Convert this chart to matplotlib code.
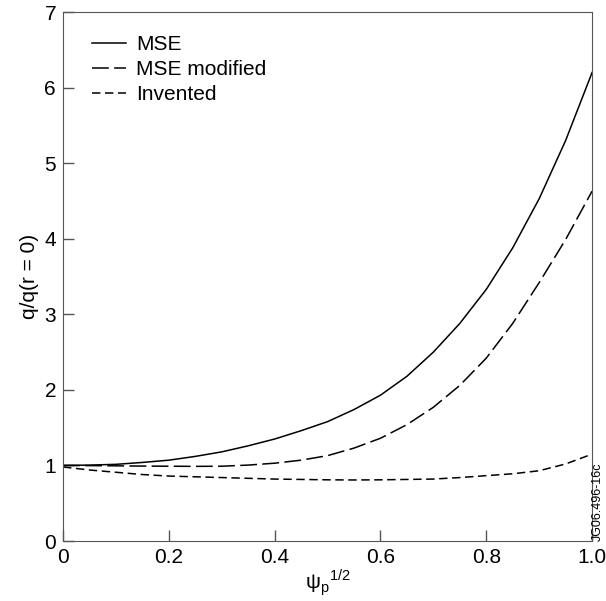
import numpy as np
import matplotlib.pyplot as plt

plt.rcParams['font.family'] = ['Liberation Sans', 'DejaVu Sans']
plt.rcParams['mathtext.fontset'] = 'custom'
plt.rcParams['mathtext.rm'] = 'Liberation Sans'

# values
x = [0.0, 0.05, 0.1, 0.15, 0.2, 0.25, 0.3, 0.35, 0.4, 0.45, 0.5, 0.55, 0.6,
     0.65, 0.7, 0.75, 0.8, 0.85, 0.9, 0.95, 1.0]
mse = [1.0, 1.005, 1.015, 1.04, 1.07, 1.12, 1.18, 1.26, 1.35, 1.46, 1.58,
       1.74, 1.93, 2.18, 2.5, 2.88, 3.33, 3.88, 4.53, 5.3, 6.2]
mse_mod = [1.0, 0.998, 0.995, 0.992, 0.99, 0.988, 0.99, 1.005, 1.03, 1.07,
           1.13, 1.23, 1.36, 1.54, 1.77, 2.06, 2.42, 2.88, 3.42, 3.99, 4.63]
invented = [0.98, 0.94, 0.91, 0.88, 0.86, 0.85, 0.84, 0.83, 0.82, 0.815,
            0.81, 0.808, 0.81, 0.815, 0.82, 0.84, 0.865, 0.89, 0.93, 1.02, 1.15]

fig = plt.figure(figsize=(6.06, 6.01), dpi=100)
ax = fig.add_axes([0.104, 0.0998, 0.873, 0.88])

ax.plot(x, mse, color='black', lw=1.1, label='MSE')
ax.plot(x, mse_mod, color='black', lw=1.1, dashes=(11, 3.5), label='MSE modified')
ax.plot(x, invented, color='black', lw=1.1, dashes=(5.5, 3), label='Invented')

ax.set_xlim(0, 1.0)
ax.set_ylim(0, 7)
ax.set_xticks([0, 0.2, 0.4, 0.6, 0.8, 1.0])
ax.set_xticklabels(['0', '0.2', '0.4', '0.6', '0.8', '1.0'])
ax.set_yticks(range(8))
ax.tick_params(direction='in', labelsize=15, length=8, color='#555555',
               width=1, pad=5)
for s in ax.spines.values():
    s.set_color('#555555')

ax.set_xlabel(r'ψ$_{\mathrm{p}}$$^{\mathrm{1/2}}$', fontsize=15, labelpad=0)
ax.set_ylabel('q/q(r = 0)', fontsize=15)

ax.legend(loc='upper left', bbox_to_anchor=(0.0, 1.012), frameon=False,
          fontsize=15, handlelength=1.6, handletextpad=0.5,
          labelspacing=0.3, borderaxespad=1.0)

fig.text(0.986, 0.1, 'JG06.496-16c', rotation=90, fontsize=9,
         ha='center', va='bottom')

fig.savefig('out.png')
